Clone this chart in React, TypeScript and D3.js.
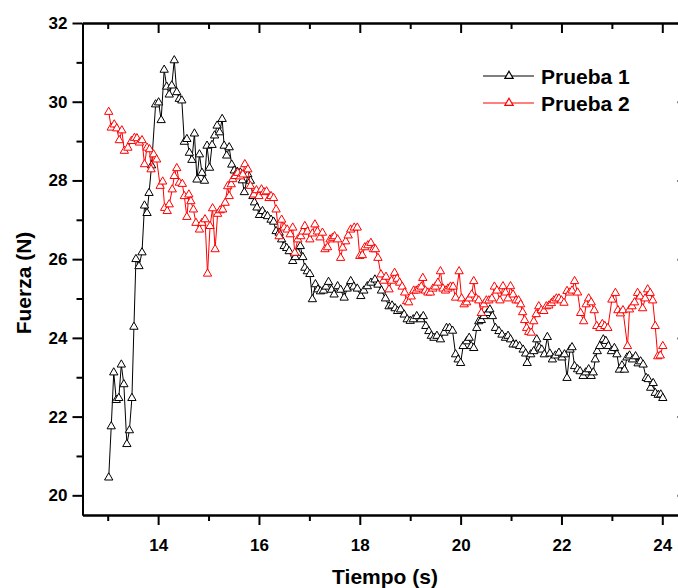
import React, { useEffect, useRef } from "react";
import * as d3 from "d3";

const xTicks = [14, 16, 18, 20, 22, 24];
const xMinorTicks = [13, 15, 17, 19, 21, 23];
const yTicks = [20, 22, 24, 26, 28, 30, 32];
const yMinorTicks = [21, 23, 25, 27, 29, 31];
const seriesNames = ["Prueba 1", "Prueba 2"];
const seriesColors = ["#000000", "#ff0000"];

const t1 = [13.02,13.07,13.12,13.17,13.22,13.27,13.32,13.38,13.43,13.48,13.52,13.56,13.62,13.68,13.73,13.78,13.82,13.87,13.95,14.01,14.06,14.12,14.17,14.22,14.27,14.32,14.37,14.42,14.47,14.52,14.57,14.62,14.67,14.72,14.77,14.82,14.87,14.92,14.97,15.02,15.07,15.12,15.17,15.22,15.27,15.31,15.36,15.41,15.46,15.51,15.57,15.63,15.67,15.71,15.78,15.83,15.88,15.91,15.96,16.01,16.07,16.12,16.17,16.24,16.29,16.34,16.40,16.45,16.50,16.55,16.60,16.67,16.72,16.77,16.82,16.87,16.91,16.96,17.01,17.06,17.12,17.17,17.22,17.28,17.33,17.38,17.44,17.49,17.56,17.62,17.69,17.75,17.82,17.88,17.95,18.02,18.08,18.15,18.22,18.30,18.36,18.43,18.51,18.58,18.64,18.70,18.75,18.81,18.88,18.94,19.00,19.06,19.13,19.21,19.26,19.31,19.37,19.42,19.47,19.53,19.60,19.67,19.72,19.78,19.84,19.90,19.95,20.00,20.05,20.12,20.17,20.21,20.26,20.32,20.36,20.41,20.46,20.53,20.58,20.63,20.69,20.76,20.82,20.89,20.94,20.99,21.04,21.10,21.17,21.24,21.29,21.32,21.39,21.45,21.51,21.56,21.61,21.66,21.72,21.77,21.82,21.88,21.95,22.01,22.06,22.11,22.17,22.21,22.26,22.32,22.37,22.43,22.48,22.54,22.59,22.63,22.67,22.71,22.76,22.83,22.88,22.93,22.99,23.05,23.10,23.15,23.20,23.25,23.30,23.35,23.41,23.47,23.52,23.57,23.62,23.68,23.72,23.77,23.82,23.86,23.92,23.97,24.01];
const f1 = [20.45,21.75,23.12,22.42,22.47,23.32,22.82,21.30,21.65,22.47,24.28,26.00,25.82,26.17,27.36,27.17,27.68,28.38,29.93,29.98,29.53,30.81,30.38,30.18,30.41,31.05,30.24,30.07,30.03,28.98,29.05,28.70,28.52,29.19,28.02,28.66,28.19,27.99,28.88,28.32,28.90,29.14,29.39,29.22,29.56,28.88,28.63,28.84,28.40,28.25,28.22,28.20,28.00,27.70,28.15,27.99,27.60,27.44,27.31,27.12,27.22,27.12,27.09,27.00,26.95,26.71,26.67,26.50,26.33,26.28,26.20,25.95,26.05,26.16,26.33,26.05,25.78,25.69,25.62,24.98,25.36,25.23,25.18,25.20,25.30,25.42,25.22,25.10,25.31,25.22,25.02,25.25,25.44,25.30,25.25,25.06,25.20,25.31,25.40,25.48,25.35,25.20,25.00,24.80,24.82,24.75,24.68,24.72,24.59,24.47,24.43,24.47,24.55,24.47,24.55,24.30,24.17,24.05,24.00,24.05,23.96,24.13,24.25,24.25,24.18,23.58,23.45,23.36,23.79,23.91,24.00,23.79,23.74,24.25,24.42,24.45,24.55,24.63,24.72,24.55,24.25,24.17,24.08,24.00,24.05,23.96,23.83,23.83,23.79,23.70,23.60,23.36,23.58,23.66,23.96,23.75,23.70,23.58,24.02,23.60,23.45,23.55,23.62,23.50,23.58,22.98,23.70,23.76,23.28,23.20,23.15,23.03,23.12,23.20,23.03,23.12,23.45,23.66,23.79,23.96,23.92,23.79,23.66,23.74,23.58,23.19,23.30,23.19,23.50,23.55,23.45,23.53,23.35,23.40,23.32,22.98,22.95,22.73,22.85,22.60,22.55,22.56,22.47];

const t2 = [13.02,13.07,13.13,13.18,13.23,13.28,13.33,13.40,13.47,13.53,13.58,13.63,13.68,13.73,13.78,13.83,13.86,13.91,13.97,14.04,14.09,14.13,14.18,14.22,14.28,14.32,14.37,14.42,14.48,14.52,14.57,14.61,14.65,14.70,14.75,14.82,14.87,14.93,14.98,15.03,15.08,15.13,15.18,15.23,15.28,15.33,15.38,15.41,15.45,15.48,15.53,15.58,15.63,15.68,15.72,15.78,15.83,15.90,15.95,16.00,16.05,16.10,16.15,16.20,16.24,16.29,16.34,16.40,16.45,16.50,16.56,16.62,16.67,16.71,16.77,16.83,16.87,16.91,16.96,17.01,17.06,17.11,17.16,17.21,17.26,17.31,17.36,17.41,17.46,17.50,17.56,17.62,17.66,17.72,17.77,17.82,17.89,17.95,18.00,18.05,18.10,18.16,18.22,18.27,18.31,18.36,18.42,18.47,18.52,18.58,18.63,18.69,18.74,18.79,18.84,18.89,18.93,18.97,19.02,19.07,19.12,19.17,19.22,19.25,19.30,19.35,19.40,19.45,19.50,19.55,19.60,19.65,19.70,19.75,19.80,19.85,19.90,19.97,20.02,20.07,20.12,20.17,20.22,20.26,20.31,20.36,20.41,20.46,20.51,20.56,20.62,20.67,20.72,20.78,20.84,20.89,20.94,20.99,21.04,21.10,21.15,21.19,21.23,21.27,21.31,21.35,21.40,21.45,21.50,21.55,21.60,21.65,21.70,21.75,21.80,21.85,21.90,21.95,22.00,22.05,22.11,22.16,22.21,22.26,22.32,22.38,22.44,22.49,22.54,22.59,22.65,22.70,22.76,22.81,22.86,22.92,23.00,23.07,23.12,23.17,23.22,23.31,23.35,23.40,23.45,23.51,23.56,23.61,23.66,23.71,23.76,23.81,23.86,23.91,23.96,24.01];
const f2 = [29.74,29.34,29.42,29.32,29.02,29.27,28.75,28.83,29.00,29.08,29.07,28.96,29.02,28.41,28.83,28.79,28.28,28.66,28.53,27.86,27.97,27.30,27.22,27.39,27.77,28.11,28.31,27.94,27.91,27.60,27.07,27.64,27.47,27.26,26.92,26.75,26.92,27.01,25.63,26.84,27.29,26.25,27.15,27.24,27.26,27.43,27.85,27.60,27.90,28.03,28.11,28.19,28.10,28.15,28.41,28.28,27.86,27.64,27.75,27.60,27.77,27.70,27.72,27.55,27.60,27.55,27.26,26.58,27.00,26.80,26.75,26.63,26.80,26.16,26.50,26.58,26.70,26.84,26.70,26.50,26.65,26.88,26.70,26.55,26.67,26.25,26.30,26.50,26.54,26.58,26.50,26.03,26.29,26.45,26.60,26.75,26.80,26.80,26.08,26.10,26.30,26.35,26.41,26.25,26.25,26.03,25.61,25.45,25.55,25.23,25.45,25.65,25.50,25.40,25.30,25.15,24.93,24.90,25.05,25.20,25.20,25.25,25.30,25.52,25.20,25.15,25.15,25.25,25.30,25.40,25.69,25.25,25.20,25.25,25.30,25.30,25.02,25.69,25.00,24.85,24.90,25.00,25.10,25.44,25.00,24.95,24.63,24.85,24.95,24.95,25.00,25.30,25.20,24.95,25.31,25.15,25.00,25.31,25.10,24.95,24.95,24.85,24.65,24.45,24.25,24.15,24.13,24.42,24.60,24.80,24.70,24.68,24.80,24.82,24.88,24.95,25.00,25.00,24.95,24.89,25.19,25.15,25.20,25.44,25.15,24.63,24.42,24.85,25.00,24.90,24.70,24.30,24.25,24.35,24.30,24.25,24.97,25.14,24.70,24.62,24.70,23.79,24.72,24.80,24.90,25.14,25.05,24.75,25.00,25.23,25.14,24.95,24.30,23.53,23.55,23.79];

const W = 678;
const H = 588;
const M = { left: 82.5, right: 687.5, top: 23, bottom: 515 };
const FONT = "'Liberation Sans', Arial, Helvetica, sans-serif";

export default function App() {
  const ref = useRef<SVGSVGElement | null>(null);

  useEffect(() => {
    const svg = d3.select(ref.current);
    svg.selectAll("*").remove();

    const x = d3.scaleLinear().domain([12.5, 24.5]).range([M.left, M.right]);
    const y = d3.scaleLinear().domain([19.5, 32]).range([M.bottom, M.top]);

    const styleAxis = (g: any) => {
      g.selectAll("path.domain").attr("stroke", "#000").attr("stroke-width", 2);
      g.selectAll(".tick line").attr("stroke", "#000").attr("stroke-width", 2);
      g.selectAll(".tick text")
        .attr("fill", "#000")
        .style("font-family", FONT)
        .style("font-weight", "bold")
        .style("font-size", "17px");
    };

    // bottom
    svg.append("g").attr("transform", `translate(0,${M.bottom})`)
      .call(d3.axisBottom(x).tickValues(xTicks).tickSize(10).tickSizeOuter(0).tickPadding(14).tickFormat(d3.format("d")))
      .call(styleAxis);
    svg.append("g").attr("transform", `translate(0,${M.bottom})`)
      .call(d3.axisBottom(x).tickValues(xMinorTicks).tickSize(6).tickSizeOuter(0).tickFormat(() => ""))
      .call(styleAxis);
    // top
    svg.append("g").attr("transform", `translate(0,${M.top})`)
      .call(d3.axisTop(x).tickValues(xTicks).tickSize(-10).tickSizeOuter(0).tickFormat(() => ""))
      .call(styleAxis);
    svg.append("g").attr("transform", `translate(0,${M.top})`)
      .call(d3.axisTop(x).tickValues(xMinorTicks).tickSize(-6).tickSizeOuter(0).tickFormat(() => ""))
      .call(styleAxis);
    // left
    svg.append("g").attr("transform", `translate(${M.left},0)`)
      .call(d3.axisLeft(y).tickValues(yTicks).tickSize(10).tickSizeOuter(0).tickPadding(5).tickFormat(d3.format("d")))
      .call(styleAxis);
    svg.append("g").attr("transform", `translate(${M.left},0)`)
      .call(d3.axisLeft(y).tickValues(yMinorTicks).tickSize(6).tickSizeOuter(0).tickFormat(() => ""))
      .call(styleAxis);
    // right
    svg.append("g").attr("transform", `translate(${M.right},0)`)
      .call(d3.axisRight(y).tickValues(yTicks).tickSize(-10).tickSizeOuter(0).tickFormat(() => ""))
      .call(styleAxis);
    svg.append("g").attr("transform", `translate(${M.right},0)`)
      .call(d3.axisRight(y).tickValues(yMinorTicks).tickSize(-6).tickSizeOuter(0).tickFormat(() => ""))
      .call(styleAxis);

    const tri = d3.symbol().type(d3.symbolTriangle).size(30);
    const line = d3.line<[number, number]>().x((d) => x(d[0])).y((d) => y(d[1]));

    const series: [number, number][][] = [
      t1.map((t, i) => [t, f1[i]] as [number, number]),
      t2.map((t, i) => [t, f2[i]] as [number, number]),
    ];

    series.forEach((data, si) => {
      const g = svg.append("g");
      g.append("path")
        .attr("d", line(data) as string)
        .attr("fill", "none")
        .attr("stroke", seriesColors[si])
        .attr("stroke-width", 1);
      g.selectAll("path.pt")
        .data(data)
        .enter()
        .append("path")
        .attr("class", "pt")
        .attr("d", tri() as string)
        .attr("transform", (d) => `translate(${x(d[0])},${y(d[1])})`)
        .attr("fill", "#fff")
        .attr("stroke", seriesColors[si])
        .attr("stroke-width", 1);
    });

    // legend
    seriesNames.forEach((name, i) => {
      const ly = 76 + i * 27;
      const g = svg.append("g");
      g.append("line")
        .attr("x1", 483).attr("x2", 534).attr("y1", ly).attr("y2", ly)
        .attr("stroke", seriesColors[i]).attr("stroke-width", 1);
      g.append("path")
        .attr("d", tri() as string)
        .attr("transform", `translate(509,${ly})`)
        .attr("fill", "#fff")
        .attr("stroke", seriesColors[i])
        .attr("stroke-width", 1.2);
      g.append("text")
        .attr("x", 541).attr("y", ly)
        .attr("dominant-baseline", "central")
        .style("font-family", FONT)
        .style("font-weight", "bold")
        .style("font-size", "21px")
        .attr("fill", "#000")
        .text(name);
    });

    // axis titles
    svg.append("text")
      .attr("x", (M.left + M.right) / 2).attr("y", 576)
      .attr("text-anchor", "middle")
      .attr("dominant-baseline", "central")
      .style("font-family", FONT).style("font-weight", "bold").style("font-size", "21px")
      .text("Tiempo (s)");
    svg.append("text")
      .attr("transform", `translate(23,283) rotate(-90)`)
      .attr("text-anchor", "middle")
      .attr("dominant-baseline", "central")
      .style("font-family", FONT).style("font-weight", "bold").style("font-size", "21px")
      .text("Fuerza (N)");
  }, []);

  return (
    <svg
      ref={ref}
      width={W}
      height={H}
      style={{ position: "absolute", left: 0, top: 0, background: "#fff", display: "block" }}
    />
  );
}
